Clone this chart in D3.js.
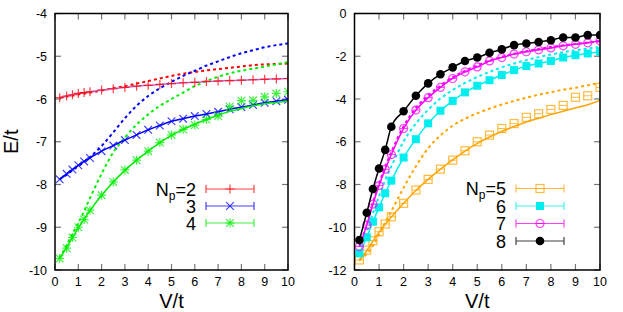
<!DOCTYPE html>
<html>
<head>
<meta charset="utf-8">
<script src="https://cdn.jsdelivr.net/npm/d3@7"></script>
<style>
  body { margin: 0; background: #fff; }
  svg { display: block; font-family: "Liberation Sans", Arial, sans-serif; }
</style>
</head>
<body>
<div id="chart"></div>
<script>
// interaction strength grid (same for all series)
const V = [0.2, 0.5, 0.75, 1, 1.25, 1.5, 2, 2.5, 3, 3.5, 4, 4.5, 5, 5.5, 6, 6.5, 7, 7.5, 8, 8.5, 9, 9.5, 10];

// left panel, Np = 2,3,4
const np2Pts  = [-5.97, -5.93, -5.90, -5.87, -5.85, -5.83, -5.79, -5.76, -5.73, -5.70, -5.68, -5.66, -5.64, -5.62, -5.61, -5.59, -5.58, -5.57, -5.56, -5.55, -5.54, -5.53, -5.52];
const np2Dash = [-5.97, -5.94, -5.92, -5.89, -5.87, -5.85, -5.80, -5.75, -5.70, -5.64, -5.58, -5.52, -5.46, -5.41, -5.37, -5.33, -5.30, -5.27, -5.24, -5.21, -5.19, -5.18, -5.17];
const np3Pts  = [-7.88, -7.75, -7.65, -7.55, -7.46, -7.38, -7.22, -7.09, -6.96, -6.84, -6.72, -6.62, -6.52, -6.46, -6.40, -6.35, -6.30, -6.24, -6.19, -6.14, -6.09, -6.05, -6.02];
const np3Dash = [-7.88, -7.77, -7.67, -7.57, -7.47, -7.36, -7.10, -6.78, -6.45, -6.16, -5.93, -5.75, -5.60, -5.46, -5.34, -5.22, -5.12, -5.02, -4.93, -4.86, -4.79, -4.74, -4.70];
const np4Pts  = [-9.73, -9.49, -9.24, -9.00, -8.82, -8.60, -8.25, -7.94, -7.66, -7.43, -7.22, -7.02, -6.84, -6.71, -6.61, -6.48, -6.40, -6.18, -6.04, -6.03, -5.95, -5.87, -5.83];
const np4Fit  = [-9.73, -9.47, -9.24, -9.02, -8.81, -8.61, -8.25, -7.94, -7.67, -7.43, -7.22, -7.02, -6.85, -6.71, -6.59, -6.48, -6.38, -6.29, -6.22, -6.16, -6.11, -6.08, -6.05];
const np4Dash = [-9.72, -9.42, -9.15, -8.90, -8.62, -8.32, -7.75, -7.25, -6.90, -6.60, -6.36, -6.16, -6.00, -5.85, -5.70, -5.58, -5.48, -5.40, -5.34, -5.29, -5.24, -5.19, -5.14];

// right panel, Np = 5,6,7,8
const np5Pts  = [-11.53, -11.07, -10.63, -10.21, -9.85, -9.51, -8.88, -8.26, -7.76, -7.28, -6.86, -6.42, -6.00, -5.69, -5.38, -5.15, -4.86, -4.69, -4.49, -4.30, -3.92, -3.85, -3.46];
const np5Fit  = [-11.58, -11.10, -10.65, -10.23, -9.86, -9.52, -8.88, -8.28, -7.76, -7.28, -6.85, -6.44, -6.08, -5.78, -5.52, -5.29, -5.08, -4.90, -4.73, -4.57, -4.42, -4.27, -4.07];
const np5Dash = [-11.50, -11.25, -10.85, -10.35, -9.80, -9.25, -8.15, -7.15, -6.30, -5.70, -5.25, -4.92, -4.67, -4.45, -4.26, -4.09, -3.94, -3.80, -3.68, -3.57, -3.47, -3.36, -3.25];
const np6Pts  = [-11.22, -10.47, -9.74, -9.07, -8.41, -7.82, -6.74, -5.88, -5.14, -4.55, -4.09, -3.69, -3.38, -3.12, -2.88, -2.65, -2.46, -2.34, -2.22, -2.06, -1.95, -1.87, -1.79];
const np6Dash = [-11.20, -10.20, -9.35, -8.55, -7.80, -7.15, -5.98, -5.15, -4.50, -3.98, -3.58, -3.25, -2.97, -2.73, -2.52, -2.34, -2.18, -2.04, -1.92, -1.81, -1.72, -1.64, -1.57];
const np7Pts  = [-10.90, -9.90, -8.92, -8.05, -7.29, -6.60, -5.38, -4.52, -3.94, -3.46, -3.04, -2.73, -2.50, -2.22, -2.06, -1.90, -1.79, -1.70, -1.61, -1.51, -1.44, -1.37, -1.28];
const np7Dash = [-10.90, -9.85, -8.85, -7.95, -7.17, -6.48, -5.28, -4.42, -3.84, -3.37, -2.98, -2.68, -2.43, -2.20, -2.03, -1.88, -1.76, -1.66, -1.57, -1.49, -1.42, -1.36, -1.30];
const np8Pts  = [-10.60, -9.32, -8.21, -7.25, -6.38, -5.30, -4.57, -3.85, -3.27, -2.84, -2.52, -2.22, -2.06, -1.84, -1.68, -1.48, -1.40, -1.33, -1.25, -1.12, -1.12, -1.01, -1.01];

const xTicks = d3.range(0, 11);
const leftYTicks = [-4, -5, -6, -7, -8, -9, -10];
const rightYTicks = [0, -2, -4, -6, -8, -10, -12];

const W = 623, H = 312;
const svg = d3.select("#chart").append("svg").attr("width", W).attr("height", H);
svg.append("rect").attr("width", W).attr("height", H).attr("fill", "#fff");

// marker shapes
function markerPath(kind, s) {
    const plus = `M${-s},0H${s}M0,${-s}V${s}`;
    const c = s * 0.85;
    const cross = `M${-c},${-c}L${c},${c}M${-c},${c}L${c},${-c}`;
    if (kind === "plus") return plus;
    if (kind === "cross") return cross;
    if (kind === "star") return plus + cross;
    return "";
}

function drawMarker(g, kind, color, x, y) {
    const m = g.append("g").attr("transform", `translate(${x},${y})`).attr("opacity", 0.75);
    if (kind === "plus" || kind === "cross" || kind === "star") {
        m.append("path").attr("d", markerPath(kind, 4.5)).attr("stroke", color).attr("stroke-width", 1.2).attr("fill", "none");
    } else if (kind === "sq") {
        m.append("rect").attr("x", -4).attr("y", -4).attr("width", 8).attr("height", 8)
            .attr("fill", "none").attr("stroke", color).attr("stroke-width", 1.2);
        m.append("path").attr("d", "M-4,0H4").attr("stroke", color).attr("stroke-width", 1);
    } else if (kind === "sqf") {
        m.attr("opacity", 1);
        m.append("rect").attr("x", -4).attr("y", -4).attr("width", 8).attr("height", 8).attr("fill", color);
    } else if (kind === "circ") {
        m.append("circle").attr("r", 4).attr("fill", "none").attr("stroke", color).attr("stroke-width", 1.2);
        m.append("path").attr("d", "M-4,0H4").attr("stroke", color).attr("stroke-width", 1);
    } else if (kind === "circf") {
        m.attr("opacity", 1);
        m.append("circle").attr("r", 4.3).attr("fill", color);
    }
}

function drawPanel(cfg) {
    const x = d3.scaleLinear().domain([0, 10]).range([cfg.x0, cfg.x1]);
    const y = d3.scaleLinear().domain(cfg.yDomain).range([cfg.y1, cfg.y0]);
    const g = svg.append("g");
    const clipId = "clip" + cfg.id;
    g.append("clipPath").attr("id", clipId).append("rect")
        .attr("x", cfg.x0).attr("y", cfg.y0).attr("width", cfg.x1 - cfg.x0).attr("height", cfg.y1 - cfg.y0);

    // inward ticks on all four sides
    const ticks = g.append("g").attr("stroke", "#777").attr("stroke-width", 1.2);
    xTicks.forEach(t => {
        ticks.append("line").attr("x1", x(t)).attr("x2", x(t)).attr("y1", cfg.y1).attr("y2", cfg.y1 - 6);
        ticks.append("line").attr("x1", x(t)).attr("x2", x(t)).attr("y1", cfg.y0).attr("y2", cfg.y0 + 6);
    });
    cfg.yTicks.forEach(t => {
        ticks.append("line").attr("x1", cfg.x0).attr("x2", cfg.x0 + 6).attr("y1", y(t)).attr("y2", y(t));
        ticks.append("line").attr("x1", cfg.x1).attr("x2", cfg.x1 - 6).attr("y1", y(t)).attr("y2", y(t));
    });

    // tick labels
    g.selectAll(".xl").data(xTicks).enter().append("text")
        .attr("x", d => x(d)).attr("y", cfg.y1 + 16)
        .attr("text-anchor", "middle").attr("font-size", 12.5).text(d => d);
    g.selectAll(".yl").data(cfg.yTicks).enter().append("text")
        .attr("x", cfg.x0 - 8).attr("y", d => y(d) + 4.5)
        .attr("text-anchor", "end").attr("font-size", 12.5).text(d => d);

    // axis titles
    g.append("text").attr("x", (cfg.x0 + cfg.x1) / 2).attr("y", H - 4)
        .attr("text-anchor", "middle").attr("font-size", 20).text("V/t");
    if (cfg.ylabel) {
        g.append("text").attr("transform", `translate(${18},${(cfg.y0 + cfg.y1) / 2}) rotate(-90)`)
            .attr("text-anchor", "middle").attr("font-size", 20).text(cfg.ylabel);
    }

    const line = d3.line().x((d, i) => x(V[i])).y(d => y(d)).curve(d3.curveMonotoneX);
    const plot = g.append("g").attr("clip-path", `url(#${clipId})`);

    // dotted curves
    cfg.series.forEach(s => {
        if (!s.dash) return;
        plot.append("path").datum(s.dash).attr("d", line)
            .attr("fill", "none").attr("stroke", s.color).attr("stroke-width", 2)
            .attr("stroke-dasharray", "3,3");
    });
    // solid curves + points
    cfg.series.forEach(s => {
        plot.append("path").datum(s.fit || s.pts).attr("d", line)
            .attr("fill", "none").attr("stroke", s.lineColor || s.color).attr("stroke-width", 1.5);
        s.pts.forEach((v, i) => drawMarker(plot, s.marker, s.color, x(V[i]), y(v)));
    });

    // frame
    g.append("rect").attr("x", cfg.x0).attr("y", cfg.y0)
        .attr("width", cfg.x1 - cfg.x0).attr("height", cfg.y1 - cfg.y0)
        .attr("fill", "none").attr("stroke", "#000").attr("stroke-width", 1.5);

    // legend
    cfg.series.forEach((s, i) => {
        const ly = cfg.legY + i * cfg.legStep;
        const t = g.append("text").attr("x", cfg.legTextX).attr("y", ly + 6.5)
            .attr("text-anchor", "end").attr("font-size", 18);
        if (i === 0) {
            t.append("tspan").text("N");
            t.append("tspan").attr("font-size", 12).attr("dy", 4).text("p");
            t.append("tspan").attr("dy", -4).text("=" + s.label);
        } else {
            t.text(s.label);
        }
        const lg = g.append("g").attr("stroke", s.color).attr("stroke-width", 1.2).attr("opacity", 0.75);
        lg.append("line").attr("x1", cfg.legX1).attr("x2", cfg.legX2).attr("y1", ly).attr("y2", ly);
        lg.append("line").attr("x1", cfg.legX1).attr("x2", cfg.legX1).attr("y1", ly - 4).attr("y2", ly + 4);
        lg.append("line").attr("x1", cfg.legX2).attr("x2", cfg.legX2).attr("y1", ly - 4).attr("y2", ly + 4);
        drawMarker(g, s.marker, s.color, (cfg.legX1 + cfg.legX2) / 2, ly);
    });
}

drawPanel({
    id: "L", x0: 55, x1: 288, y0: 13.5, y1: 270, yDomain: [-10, -4], yTicks: leftYTicks, ylabel: "E/t",
    legY: 189, legStep: 17, legTextX: 196, legX1: 206, legX2: 254,
    series: [
        { label: "2", color: "#ff0000", lineColor: "#c864c8", marker: "plus", pts: np2Pts, dash: np2Dash },
        { label: "3", color: "#0000ff", marker: "cross", pts: np3Pts, dash: np3Dash },
        { label: "4", color: "#00ee00", marker: "star", pts: np4Pts, fit: np4Fit, dash: np4Dash }
    ]
});

drawPanel({
    id: "R", x0: 354.5, x1: 600, y0: 13.5, y1: 270, yDomain: [-12, 0], yTicks: rightYTicks,
    legY: 188.5, legStep: 17.5, legTextX: 506, legX1: 516, legX2: 564,
    series: [
        { label: "5", color: "#ffa500", marker: "sq", pts: np5Pts, fit: np5Fit, dash: np5Dash },
        { label: "6", color: "#00eeee", marker: "sqf", pts: np6Pts, dash: np6Dash },
        { label: "7", color: "#ff00ff", marker: "circ", pts: np7Pts, dash: np7Dash },
        { label: "8", color: "#000000", marker: "circf", pts: np8Pts }
    ]
});
</script>
</body>
</html>
